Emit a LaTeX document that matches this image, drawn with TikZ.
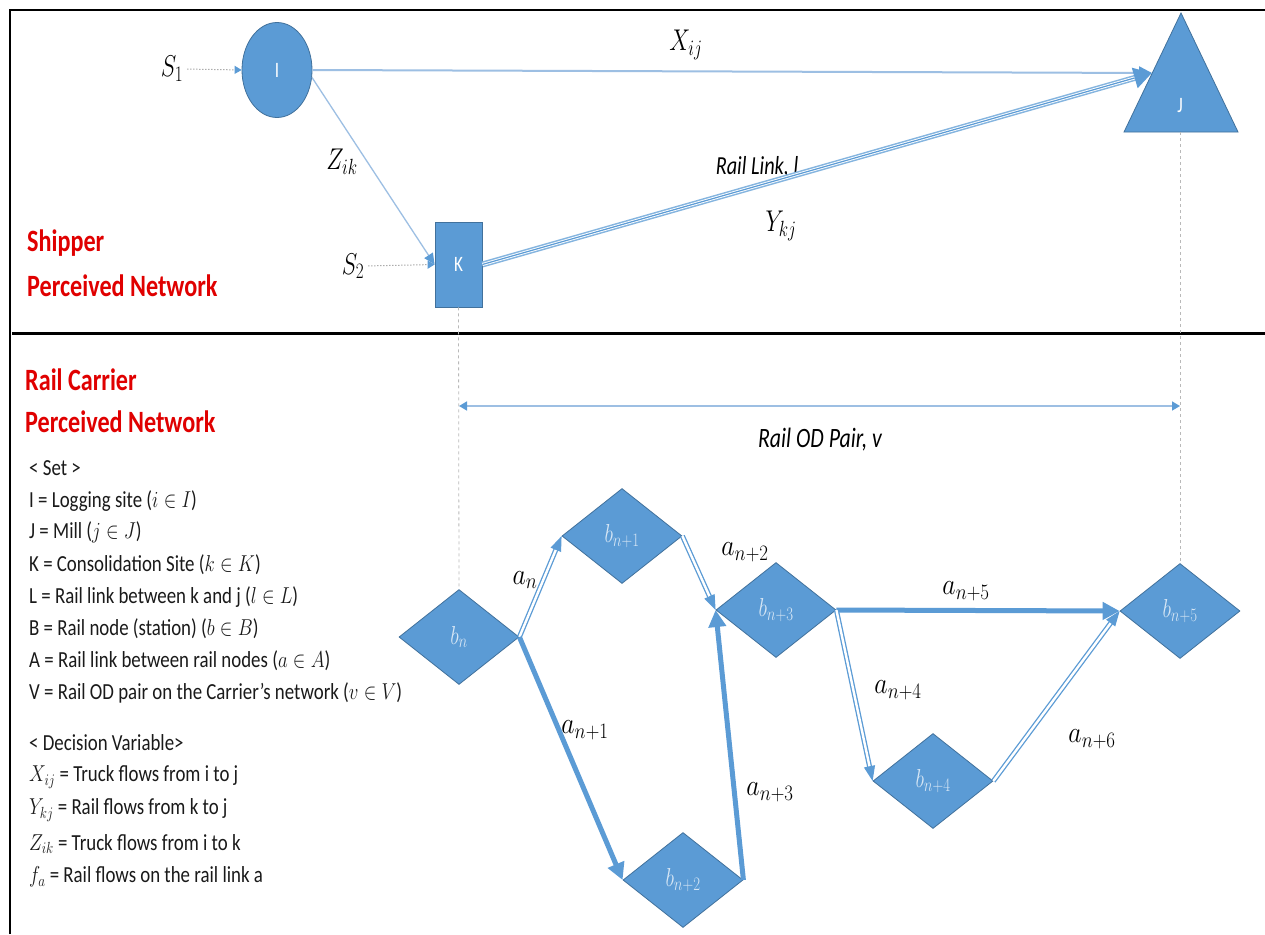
\RequirePackage{fix-cm}
\documentclass[tikz,border=0pt]{standalone}
\usepackage{fontspec}
\setmainfont{Carlito}
\usepackage{graphicx}
\usetikzlibrary{shapes.geometric,arrows.meta}
\DeclareMathSizes{30}{30}{22}{17}
\DeclareMathSizes{26}{26}{19}{15}
\definecolor{nodeblue}{HTML}{5B9BD5}
\definecolor{edgeblue}{HTML}{41719C}
\definecolor{lineblue}{HTML}{5B9BD5}
\definecolor{thinblue}{HTML}{9DBFE3}
\definecolor{titlered}{HTML}{E00000}
\definecolor{lbl}{HTML}{D6E6F5}
\definecolor{legtext}{HTML}{1A1A1A}
\newcommand{\sq}[1]{\scalebox{0.78}[1]{#1}}
\newcommand{\sqm}[1]{\scalebox{0.86}[1]{#1}}
\newcommand{\sql}[1]{\scalebox{0.82}[1]{#1}}
\begin{document}
\begin{tikzpicture}[x=1pt,y=-1pt,
  shapefill/.style={fill=nodeblue, draw=edgeblue, line width=0.8pt},
  dia/.style={shapefill, diamond, minimum width=120pt, minimum height=95pt, inner sep=0pt, text=lbl, font=\fontsize{26}{28}\selectfont},
  thickarrow/.style={lineblue, line width=5pt, -{Triangle[length=17pt,width=17pt]}},
  dblarrow/.style={lineblue, line width=1.3pt, double=white, double distance=2.4pt, -{Triangle[length=15pt,width=11pt]}},
  lab/.style={font=\fontsize{30}{32}\selectfont, inner sep=1pt},
  nodetext/.style={text=white, font=\fontsize{22}{24}\selectfont},
  title/.style={font=\fontsize{31}{34}\selectfont\bfseries, text=titlered, anchor=west, inner sep=0pt},
  legend/.style={font=\fontsize{23}{25}\selectfont, text=legtext, anchor=west, inner sep=0pt},
  guide/.style={gray!55, dashed, line width=0.8pt},
  dotarrow/.style={gray, dotted, line width=1pt, -{Triangle[length=7pt,width=8pt,color=lineblue]}},
]
\useasboundingbox (0,0) rectangle (1265,934);
\fill[white] (0,0) rectangle (1265,934);
\draw[line width=2pt] (10,934) -- (10,10) -- (1265,10);
\draw[line width=3pt] (12,333) -- (1265,333);

% ---------- shipper network ----------
\node[shapefill, ellipse, minimum width=70pt, minimum height=95pt, inner sep=0pt, nodetext] (I) at (277,70) {\sq{I}};
\node[shapefill, rectangle, minimum width=47pt, minimum height=85pt, inner sep=0pt, nodetext] (K) at (458.5,264.5) {\sq{K}};
\draw[shapefill] (1181,13) -- (1238,132) -- (1124,132) -- cycle;
\node[nodetext] (J) at (1180,106) {\sq{J}};
\coordinate (Jin) at (1152,73);
\coordinate (Jbase) at (1180,132);

\node[lab] (S1) at (172,69) {\sq{$S_1$}};
\node[lab] (S2) at (353,266) {\sq{$S_2$}};
\node[lab] (Xij) at (686,45) {\sq{$X_{ij}$}};
\node[lab] (Zik) at (342,162) {\sq{$Z_{ik}$}};
\node[lab] (Ykj) at (781,226) {\sq{$Y_{kj}$}};
\node[font=\fontsize{26}{28}\selectfont\itshape, inner sep=0pt] (RL) at (757,167) {\sq{Rail Link, l}};

\draw[dotarrow, shorten <=3pt] (S1.east) -- (I.west);
\draw[dotarrow, shorten <=3pt] (S2.east) -- (K.west);
\draw[thinblue, line width=2pt, -{Triangle[length=13pt,width=13pt,color=lineblue]}] (I.east) -- (Jin);
\draw[thinblue, line width=1.3pt, -{Triangle[length=11pt,width=10pt,color=lineblue]}] (I.-12) -- (K.west);
\draw[lineblue!75, line width=6pt, -{Triangle[length=18pt,width=20pt,color=lineblue]}] (K.east) -- (Jin);
\draw[white, line width=3pt, shorten >=18pt] (K.east) -- (Jin);
\draw[lineblue, line width=1.2pt, shorten >=18pt] (K.east) -- (Jin);

% ---------- titles ----------
\node[title] (t1) at (27,243) {\sq{Shipper}};
\node[title] (t2) at (27,286) {\sq{Perceived Network}};
\node[title] (t3) at (25,380) {\sq{Rail Carrier}};
\node[title] (t4) at (25,422) {\sq{Perceived Network}};

% ---------- legend ----------
\node[legend] (l0) at (29,468) {\sql{< Set >}};
\node[legend] (l1) at (29,501) {\sql{I = Logging site ($i \in I$)}};
\node[legend] (l2) at (29,532) {\sql{J = Mill ($j \in J$)}};
\node[legend] (l3) at (29,565) {\sql{K = Consolidation Site ($k \in K$)}};
\node[legend] (l4) at (29,597) {\sql{L = Rail link between k and j ($l \in L$)}};
\node[legend] (l5) at (29,629) {\sql{B = Rail node (station) ($b \in B$)}};
\node[legend] (l6) at (29,661) {\sql{A = Rail link between rail nodes ($a \in A$)}};
\node[legend] (l7) at (29,693) {\sql{V = Rail OD pair on the Carrier’s network ($v \in V$)}};
\node[legend] (l8) at (29,743) {\sql{< Decision Variable>}};
\node[legend] (l9) at (29,777) {\sql{$X_{ij}$ = Truck flows from i to j}};
\node[legend] (l10) at (29,810) {\sql{$Y_{kj}$ = Rail flows from k to j}};
\node[legend] (l11) at (29,844) {\sql{$Z_{ik}$ = Truck flows from i to k}};
\node[legend] (l12) at (29,877) {\sql{$f_a$ = Rail flows on the rail link a}};

% ---------- rail carrier network ----------
\node[dia] (bn)  at (459,637) {\sq{$b_{n}$}};
\node[dia] (bn1) at (622,536) {\sq{$b_{n+1}$}};
\node[dia] (bn2) at (683,880) {\sq{$b_{n+2}$}};
\node[dia] (bn3) at (776,610) {\sq{$b_{n+3}$}};
\node[dia] (bn4) at (933,781) {\sq{$b_{n+4}$}};
\node[dia] (bn5) at (1180,611) {\sq{$b_{n+5}$}};

\draw[guide] (K.south) -- (bn.north);
\draw[guide] (Jbase) -- (bn5.north);
\coordinate (odL) at (459,406);
\coordinate (odR) at (1180,406);
\draw[thinblue, line width=1.5pt, {Triangle[length=8pt,width=9pt,color=lineblue]}-{Triangle[length=8pt,width=9pt,color=lineblue]}] (odL) -- (odR);
\node[font=\fontsize{28}{30}\selectfont\itshape, inner sep=0pt] (od) at (820,440) {\sq{Rail OD Pair, v}};

\draw[dblarrow] (bn.east) -- (bn1.west);
\draw[thickarrow] (bn.east) -- (bn2.west);
\draw[dblarrow] (bn1.east) -- (bn3.west);
\draw[thickarrow] (bn2.east) -- (bn3.west);
\draw[thickarrow] (bn3.east) -- (bn5.west);
\draw[dblarrow] (bn3.east) -- (bn4.west);
\draw[dblarrow] (bn4.east) -- (bn5.west);

\node[lab] (an)  at (525,580) {\sqm{$a_{n}$}};
\node[lab] (an1) at (585,730) {\sqm{$a_{n+1}$}};
\node[lab] (an2) at (745,552) {\sqm{$a_{n+2}$}};
\node[lab] (an3) at (770,792) {\sqm{$a_{n+3}$}};
\node[lab] (an4) at (898,690) {\sqm{$a_{n+4}$}};
\node[lab] (an5) at (966,591) {\sqm{$a_{n+5}$}};
\node[lab] (an6) at (1092,739) {\sqm{$a_{n+6}$}};
\end{tikzpicture}
\end{document}
